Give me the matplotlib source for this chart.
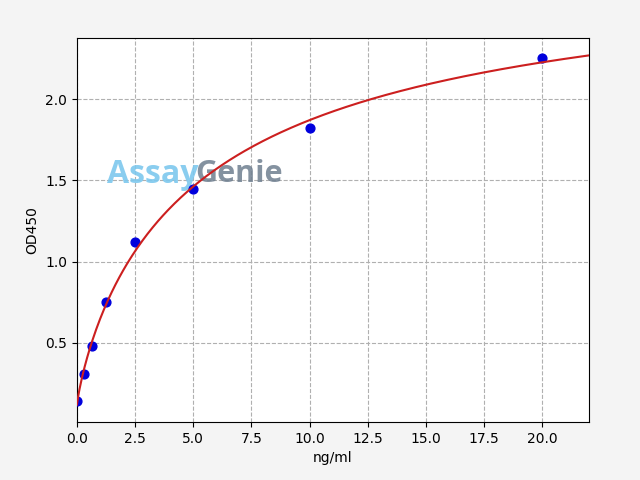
import numpy as np
import matplotlib
matplotlib.use('Agg')
import matplotlib.pyplot as plt

conc = [0.0, 0.3125, 0.625, 1.25, 2.5, 5.0, 10.0, 20.0]
od450 = [0.141, 0.305, 0.48, 0.75, 1.12, 1.447, 1.823, 2.253]


def four_pl(x, a, b, c, d):
    return d + (a - d) / (1.0 + (x / c) ** b)


# 4PL fit: grid over b, c; a, d by least squares
x = np.array(conc)
y = np.array(od450)
best = None
for b in np.linspace(0.5, 2.0, 151):
    for c in np.linspace(1.0, 30.0, 291):
        g = 1.0 / (1.0 + (x / c) ** b)
        A = np.column_stack([g, 1 - g])
        coef, *_ = np.linalg.lstsq(A, y, rcond=None)
        err = np.sum((A @ coef - y) ** 2)
        if best is None or err < best[0]:
            best = (err, coef[0], b, c, coef[1])
_, a, b, c, d = best

xs = np.linspace(0, 22, 400)

fig = plt.figure(figsize=(6.4, 4.8), dpi=100, facecolor='#f4f4f4')
ax = fig.add_axes([0.1203, 0.121, 0.7997, 0.800])

ax.scatter(conc, od450, color='#0000dd', s=40, zorder=3)
ax.plot(xs, four_pl(xs, a, b, c, d), color='#cc1f1f', linewidth=1.5, zorder=4)

ax.set_xlim(0, 22)
ax.set_ylim(0.013, 2.376)
ax.set_xlabel('ng/ml')
ax.set_ylabel('OD450')
ax.grid(True, linestyle='--', color='#b0b0b0')

# watermark
ax.text(0.058, 0.645, 'Assay', transform=ax.transAxes, fontsize=23, fontweight='bold',
        color='#7dc8ee', alpha=0.9, family='Open Sans', va='center', zorder=2)
ax.text(0.232, 0.645, 'Genie', transform=ax.transAxes, fontsize=22, fontweight='bold',
        color='#6f7f90', alpha=0.85, family='Open Sans', va='center', zorder=2)

plt.savefig('out.png', dpi=100, facecolor=fig.get_facecolor())
